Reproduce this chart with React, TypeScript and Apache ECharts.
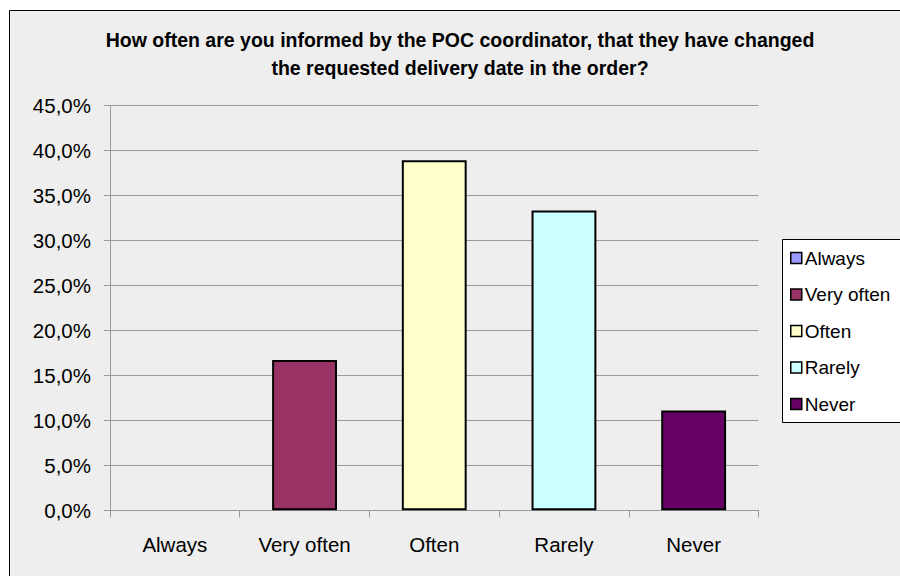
import React, { useEffect, useRef } from "react";
import * as echarts from "echarts";

const categories = ["Always", "Very often", "Often", "Rarely", "Never"];
const shares = [0, 16.7, 38.9, 33.3, 11.1];
const colors = ["#9999FF", "#993366", "#FFFFCC", "#CCFFFF", "#660066"];
const titleLines = [
  "How often are you informed by the POC coordinator, that they have changed",
  "the requested delivery date in the order?",
];

const FONT = "'Liberation Sans', Arial, sans-serif";

export default function App() {
  const ref = useRef<HTMLDivElement>(null);

  useEffect(() => {
    if (!ref.current) return;
    const chart = echarts.init(ref.current, undefined, { renderer: "svg" });

    // one series per answer so the legend lists every category
    const series = categories.map((name, i) => ({
      name,
      type: "bar",
      stack: "answers",
      barWidth: "50%",
      data: categories.map((_, j) => (j === i && shares[i] > 0 ? shares[i] : "-")),
      itemStyle: { color: colors[i], borderColor: "#000", borderWidth: 2 },
    }));

    chart.setOption({
      animation: false,
      backgroundColor: "#ffffff",
      graphic: [
        {
          type: "rect",
          z: -10,
          silent: true,
          shape: { x: 9.5, y: 10.5, width: 920, height: 600 },
          style: { fill: "#eeeeee", stroke: "#000", lineWidth: 1 },
        },
        {
          type: "rect",
          z: -5,
          silent: true,
          shape: { x: 782.5, y: 239.5, width: 140, height: 183 },
          style: { fill: "#ffffff", stroke: "#000", lineWidth: 1 },
        },
        {
          type: "text",
          x: 460,
          y: 26,
          silent: true,
          style: {
            text: titleLines.join("\n"),
            align: "center",
            verticalAlign: "top",
            fontFamily: FONT,
            fontWeight: "bold",
            fontSize: 19.5,
            lineHeight: 28,
            fill: "#000",
          },
        },
      ],
      legend: {
        orient: "vertical",
        left: 790,
        top: 248,
        itemWidth: 11,
        itemHeight: 11,
        itemGap: 16.5,
        icon: "rect",
        padding: 0,
        textStyle: { fontFamily: FONT, fontSize: 19, color: "#000", padding: [0, 0, 0, -2], lineHeight: 20 },
        itemStyle: { borderColor: "#000", borderWidth: 1.5 },
        data: categories,
      },
      grid: { left: 110, right: 141.5, top: 105.3, bottom: 65.7, containLabel: false },
      xAxis: {
        type: "category",
        data: categories,
        axisLine: { lineStyle: { color: "#999999", width: 1 } },
        axisTick: { show: true, length: 7, lineStyle: { color: "#999999" } },
        axisLabel: { fontFamily: FONT, fontSize: 20.5, color: "#000", margin: 24 },
      },
      yAxis: {
        type: "value",
        min: 0,
        max: 45,
        interval: 5,
        axisLine: { show: true, lineStyle: { color: "#999999", width: 1 } },
        axisTick: { show: true, length: 6, lineStyle: { color: "#999999" } },
        splitLine: { lineStyle: { color: "#999999", width: 1 } },
        axisLabel: {
          fontFamily: FONT,
          fontSize: 20.5,
          color: "#000",
          margin: 19,
          formatter: (v: number) => v.toFixed(1).replace(".", ",") + "%",
        },
      },
      series,
    });

    return () => chart.dispose();
  }, []);

  return (
    <div
      ref={ref}
      style={{ position: "fixed", left: 0, top: 0, width: 900, height: 576 }}
    />
  );
}
